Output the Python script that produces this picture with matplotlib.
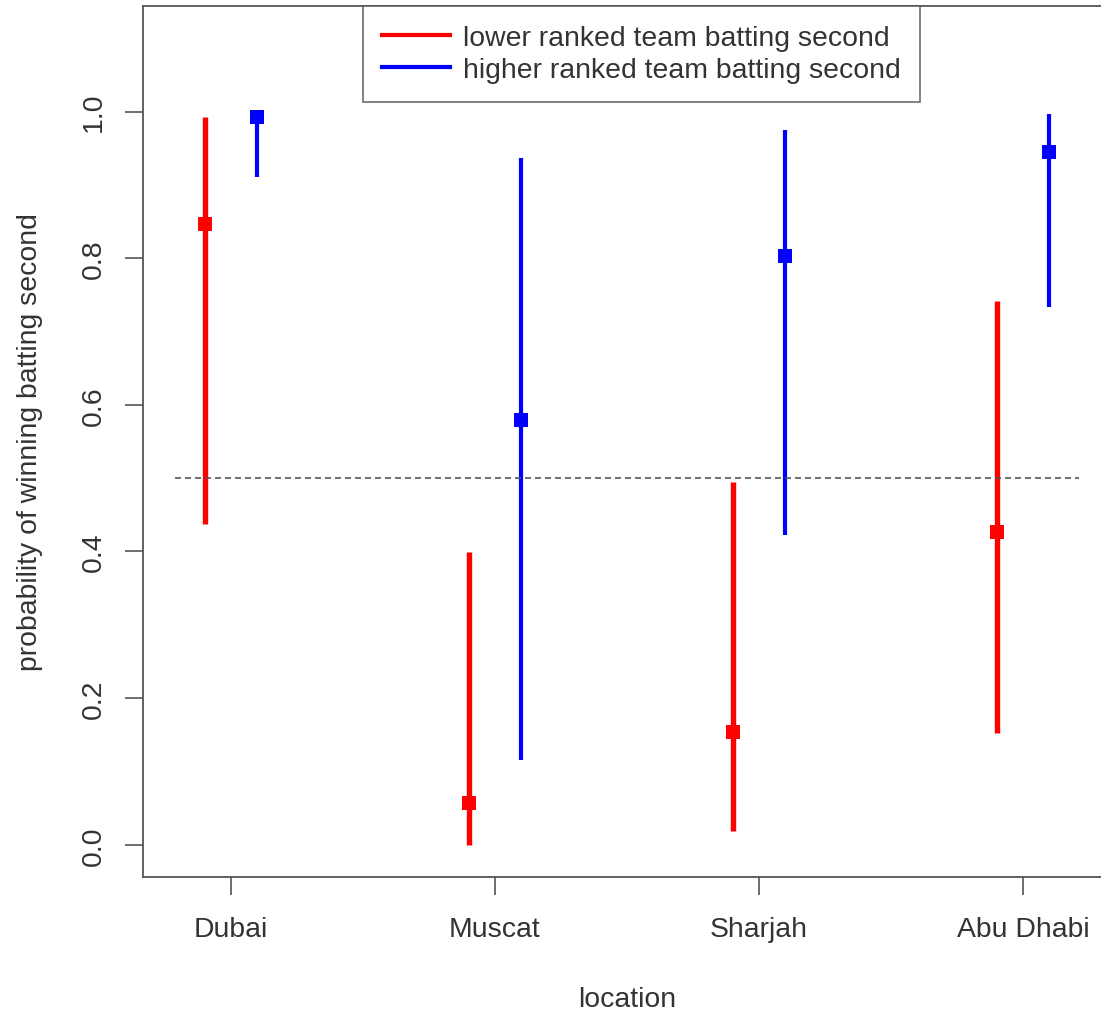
import numpy as np
import matplotlib
matplotlib.use("Agg")
from matplotlib import pyplot as plt

plt.rcParams['font.family'] = ['Liberation Sans', 'DejaVu Sans']

# Data
locations = ['Dubai', 'Muscat', 'Sharjah', 'Abu Dhabi']

lower_est = [0.847, 0.057, 0.154, 0.426]
lower_lo = [0.437, 0.000, 0.019, 0.153]
lower_hi = [0.993, 0.399, 0.495, 0.742]

higher_est = [0.993, 0.579, 0.803, 0.945]
higher_lo = [0.911, 0.116, 0.422, 0.734]
higher_hi = [1.000, 0.937, 0.975, 0.997]

offset = 0.1
ref_level = 0.5

x = np.arange(1, len(locations) + 1)

fig = plt.figure(figsize=(11.01, 10.12), dpi=100)
ax = fig.add_axes([0.1299, 0.1324, 0.8792, 0.8607])

axis_grey = '#555555'
text_grey = '#333333'

# Intervals and point estimates
ax.vlines(x - offset, lower_lo, lower_hi, color='#ff0000', lw=3.9, capstyle='butt')
ax.plot(x - offset, lower_est, 's', color='#ff0000', ms=10, mew=0)
ax.vlines(x + offset, higher_lo, higher_hi, color='#0000ff', lw=3.0, capstyle='butt')
ax.plot(x + offset, higher_est, 's', color='#0000ff', ms=10, mew=0)

# Reference line at 0.5
ax.plot([0.79, 4.21], [ref_level, ref_level], color='#555555', lw=1.2,
        dashes=(3.6, 2.4))

ax.set_xlim(0.667, 4.333)
ax.set_ylim(-0.044, 1.144)

ax.set_xticks(x)
ax.set_xticklabels(locations)
ax.set_yticks([0.0, 0.2, 0.4, 0.6, 0.8, 1.0])
ax.set_yticklabels(['0.0', '0.2', '0.4', '0.6', '0.8', '1.0'], rotation=90,
                   va='center')

ax.tick_params(axis='both', direction='out', length=13, width=1.2,
               color=axis_grey, labelcolor=text_grey, labelsize=20.4)
ax.tick_params(axis='x', pad=15)
ax.tick_params(axis='y', pad=13)

for sp in ax.spines.values():
    sp.set_color(axis_grey)
    sp.set_linewidth(1.3)

ax.set_xlabel('location', fontsize=20.4, color=text_grey)
ax.xaxis.set_label_coords(0.5, -0.125)
ax.set_ylabel('probability of winning batting second', fontsize=20.4,
              color=text_grey)
ax.yaxis.set_label_coords(-0.103, 0.5)

# Legend
handles = [
    plt.Line2D([], [], color='#ff0000', lw=3.0),
    plt.Line2D([], [], color='#0000ff', lw=3.0),
]
labels = ['lower ranked team batting second', 'higher ranked team batting second']
leg = ax.legend(handles, labels, loc='upper left', bbox_to_anchor=(0.227, 1.0),
                borderaxespad=0, fontsize=20.4, frameon=True, fancybox=False,
                handlelength=2.4, handletextpad=0.45, borderpad=0.68,
                labelspacing=0.21, labelcolor=text_grey)
leg.get_frame().set_edgecolor(axis_grey)
leg.get_frame().set_linewidth(1.3)

fig.savefig('out.png', dpi=100)
